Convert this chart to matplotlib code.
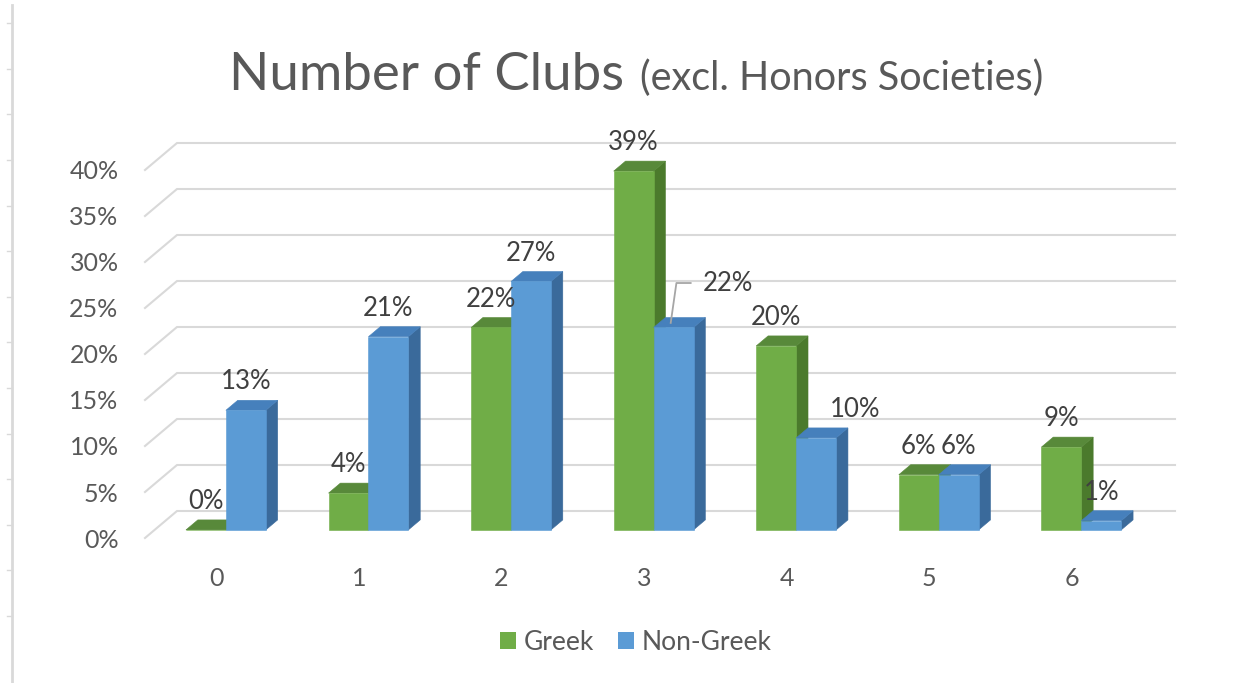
import matplotlib
matplotlib.use("Agg")
import matplotlib.pyplot as plt

from matplotlib.patches import Polygon, Patch
from matplotlib.lines import Line2D

plt.rcParams["font.family"] = ["Lato", "DejaVu Sans"]

categories = ["0", "1", "2", "3", "4", "5", "6"]
greek = [0, 4, 22, 39, 20, 6, 9]
non_greek = [13, 21, 27, 22, 10, 6, 1]
series_names = ["Greek", "Non-Greek"]
y_ticks = [0, 5, 10, 15, 20, 25, 30, 35, 40]

# face colours: front, top, side
GREEN = ("#70AD47", "#58893A", "#4B7A2C")
BLUE = ("#5B9BD5", "#4680BC", "#3A6A9B")
GRID = "#D9D9D9"
TEXT = "#595959"
LABEL = "#404040"

W, H = 1244, 683
fig = plt.figure(figsize=(W / 100, H / 100), dpi=100)
ax = fig.add_axes([145 / W, 1 - 538 / H, 998 / W, 368 / H])
ax.set_xlim(-0.5, 6.5)
ax.set_ylim(0, 40)
for s in ax.spines.values():
    s.set_visible(False)

# oblique depth: how far the back wall sits from the front edge
DX, DY = 0.2245, 2.935
D0, D1 = 0.30, 0.67   # bar front / back depth
BW = 0.28


def proj(x, y, d):
    return (x + d * DX, y + d * DY)


# back wall gridlines with the short diagonal on the left side wall
for t in y_ticks:
    pts = [proj(-0.5, t, 0), proj(-0.5, t, 1), proj(6.5, t, 1)]
    ax.plot([p[0] for p in pts], [p[1] for p in pts], color=GRID, lw=1.5,
            zorder=1, clip_on=False, solid_joinstyle="miter")


def draw_bar(x0, h, colors, z):
    x1 = x0 + BW
    front = [proj(x0, 0, D0), proj(x1, 0, D0), proj(x1, h, D0), proj(x0, h, D0)]
    top = [proj(x0, h, D0), proj(x1, h, D0), proj(x1, h, D1), proj(x0, h, D1)]
    side = [proj(x1, 0, D0), proj(x1, 0, D1), proj(x1, h, D1), proj(x1, h, D0)]
    for poly, c in ((side, colors[2]), (top, colors[1]), (front, colors[0])):
        ax.add_patch(Polygon(poly, closed=True, facecolor=c, edgecolor=c,
                             lw=0.4, zorder=z, clip_on=False))


# label nudges for crowded spots (series, category) -> (dx, dy)
nudges = {(1, 3): (0.38, 1.75), (1, 4): (0.27, 0.0)}

z = 2
for i in range(len(categories)):
    for s, (vals, colors) in enumerate(((greek, GREEN), (non_greek, BLUE))):
        v = vals[i]
        x0 = i - BW + s * BW
        draw_bar(x0, v, colors, z)
        z += 1
        xc = x0 + BW / 2 + D0 * DX
        ndx, ndy = nudges.get((s, i), (0, 0))
        lx, ly = xc + ndx, v + D1 * DY + 2.0 + ndy
        ax.text(lx, ly, f"{v}%", ha="center", va="center", fontsize=18.5,
                color=LABEL, zorder=50, clip_on=False)
        if (s, i) == (1, 3):
            ax.plot([xc - 0.02, lx - 0.36, lx - 0.26],
                    [v + D0 * DY + 0.5, ly, ly],
                    color="#A6A6A6", lw=1.3, zorder=49, clip_on=False)

ax.set_xticks(range(len(categories)))
ax.set_xticklabels(categories)
ax.set_yticks(y_ticks)
ax.set_yticklabels([f"{t}%" for t in y_ticks])
ax.tick_params(axis="x", length=0, pad=21, labelsize=18, labelcolor=TEXT)
ax.tick_params(axis="y", length=0, pad=19, labelsize=18, labelcolor=TEXT)

# title in two sizes sharing a baseline
t1 = fig.text(0, 1 - 90 / H, "Number of Clubs", fontsize=38, color=TEXT,
              ha="left", va="baseline")
t2 = fig.text(0, 1 - 90 / H, "(excl. Honors Societies)", fontsize=28.5,
              color=TEXT, ha="left", va="baseline")
fig.canvas.draw()
r = fig.canvas.get_renderer()
w1 = t1.get_window_extent(r).width
w2 = t2.get_window_extent(r).width
gap = 16
left = 636 - (w1 + gap + w2) / 2
t1.set_x(left / W)
t2.set_x((left + w1 + gap) / W)

handles = [Patch(facecolor=GREEN[0]), Patch(facecolor=BLUE[0])]
fig.legend(handles, series_names, loc="center",
           bbox_to_anchor=(636 / W, 1 - 642 / H), ncol=2, frameon=False,
           fontsize=19, labelcolor=TEXT, handlelength=0.6, handleheight=0.6,
           handletextpad=0.3, columnspacing=0.9)

# sheet edge ruler on the far left
fig.add_artist(Line2D([12 / W, 12 / W], [0, 1 - 5 / H], transform=fig.transFigure,
                      color=GRID, lw=2))
for k in range(-3, 11):
    yy = 1 - (160 + 45.6 * k) / H
    fig.add_artist(Line2D([7 / W, 12 / W], [yy, yy], transform=fig.transFigure,
                          color=GRID, lw=1))

fig.savefig("out.png", dpi=100)
